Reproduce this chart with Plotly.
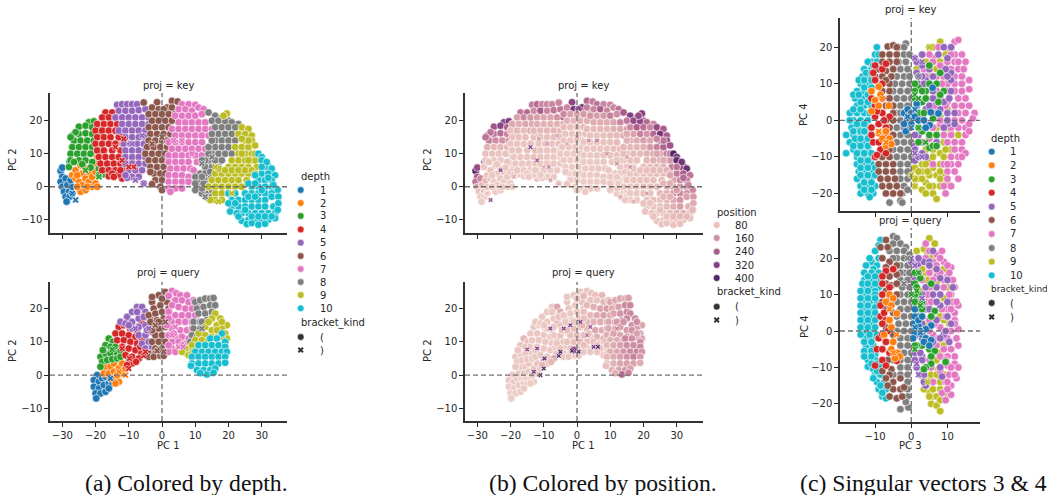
import plotly.graph_objects as go

DEPTHS = [1, 2, 3, 4, 5, 6, 7, 8, 9, 10]
TAB10 = ["#1f77b4", "#ff7f0e", "#2ca02c", "#d62728", "#9467bd", "#8c564b", "#e377c2", "#7f7f7f", "#bcbd22", "#17becf"]
POSITION_LEGEND = [80, 160, 240, 320, 400]
BRACKETS = ["(", ")"]

# ---- proj = key, PC1 / PC2 / position, one list per depth
KEY_D1 = [(-30.5,4.8,400),(-30,5.8,280),(-27.8,7.6,400),(-30,3,240),(-30.5,1.5,200),(-29,2.5,170),(-30,0,120),(-28.5,0.5,90),(-29.5,-1.5,70),(-28,-1.5,60),(-29,-3,50),(-27.8,-3,50),(-28.7,-4.5,45),(-27,-2,45),(-27,0,60),(-27.5,2,90)]
KEY_D2 = [(-27,3.5,70),(-26,5,70),(-24.5,6.5,80),(-24,4,60),(-26,2.5,60),(-25,1.5,60),(-24,0.5,50),(-23,2.5,60),(-22,4.5,60),(-22,1.5,55),(-24.5,-1.5,50),(-21,0,50),(-21,3,55),(-20,1,50),(-20,4.5,60),(-19.5,9,70),(-19.8,7,70),(-19.5,0,50),(-23,-1,50),(-25.5,3.5,60),(-23,5.5,70),(-25.5,0,50),(-22.5,0,50)]
KEY_D3 = [(-22,19.5,300),(-20.5,19.8,330),(-25,18.2,260),(-23,18.5,300),(-21,18,230),(-19.5,17.8,260),(-27,15.5,220),(-25,16,200),(-23,16.2,210),(-21,16,180),(-19,15.8,190),(-26.5,14,190),(-24.5,14,160),(-22.5,14,150),(-20.5,14,150),(-27,12,100),(-25,12,90),(-23,12,90),(-21,12,90),(-19.5,12,100),(-27.5,10,80),(-25.5,10,70),(-23.5,10,70),(-21.5,10,70),(-19,10.5,80),(-27.5,8,70),(-25,8,60),(-23,8,60),(-21,7.5,70),(-28,6,60),(-24,6.8,60),(-21.5,5.8,60),(-19,5.5,60),(-17.5,3.8,70),(-19,3.5,65),(-18,5.5,65),(-17,5,65),(-26.5,7.5,65),(-26,16.5,200),(-27.5,15,200)]
KEY_D4 = [(-17,22.5,200),(-15,22.5,220),(-18,21,130),(-16,21,170),(-14,21,160),(-19.5,19,120),(-17.5,19,110),(-15.5,19,120),(-13.5,19,120),(-20,17,80),(-18,17,90),(-16,17,80),(-14,17,110),(-19.5,15,70),(-17.5,15,75),(-15.5,15,80),(-13,15,80),(-20,13,70),(-18,13,70),(-16,13,70),(-14,13,80),(-19.5,11,65),(-17.5,11,70),(-15,11,70),(-12.5,11,90),(-19,9,60),(-17,9,60),(-15,9,65),(-13,9,75),(-11,9,90),(-18.5,7,60),(-16.5,7,60),(-14.5,7,60),(-12.5,7,65),(-18,5,60),(-16,5,55),(-14,5,55),(-11,5,60),(-16,3.2,50),(-12,2.5,60),(-9,7.5,70),(-13,3.7,55),(-15,4,50),(-14.5,3,50),(-12.5,5,55),(-11.8,13,80),(-12,16.5,100)]
KEY_D5 = [(-13.5,24.8,190),(-12,25,220),(-10.5,25,170),(-9,25,170),(-7.5,25,170),(-13,23,160),(-11,23,240),(-9,23,170),(-7,23.2,200),(-5,23.5,200),(-14,21,140),(-12,21,130),(-10,21,120),(-8,21,120),(-6,21,150),(-4,21,240),(-12,19,110),(-10,19,100),(-8,19,100),(-6,19,100),(-4,19,130),(-13,17,90),(-11,17,90),(-9,17,90),(-7,17,90),(-5,17,90),(-11,15,80),(-9,15,80),(-7,15,80),(-5,15,85),(-11.5,13,70),(-9.5,13,70),(-7.5,13,70),(-5.5,13,75),(-11,11,70),(-9,11,70),(-7,11,65),(-5,11,70),(-11,9,65),(-9,9,60),(-7,9,60),(-5,9,60),(-11,7,60),(-9,7,60),(-7,7,60),(-5,7,55),(-10,5,55),(-8,5,50),(-6,5,50),(-9,3,50),(-7,3,50),(-5.5,1,50),(-10.5,2.7,50),(-11,3.5,50)]
KEY_D6 = [(-5.5,25.5,170),(-1.5,25.6,300),(1.5,24,400),(3,26,220),(4.7,25.8,190),(-3,24,170),(-1,23.5,330),(0.5,23.5,280),(3,24,180),(-4,22,170),(-2,22,130),(0,22,120),(2,22,140),(4,22,140),(-3,20,100),(-1,20,90),(1,20,100),(3,20,110),(-4,18,85),(-2,18,80),(0,18,80),(2,18,90),(-3.5,16,70),(-1.5,16,70),(0.5,16,70),(2.5,16,80),(-4,14,65),(-2,14,60),(0,14,60),(-4.5,12,60),(-2.5,12,60),(-0.5,12,55),(1.5,12,60),(-5,10,55),(-3,10,55),(-1,10,50),(1,10,55),(-4,8,55),(-2,8,50),(0,8,50),(-3.5,6,50),(-1.5,6,50),(0.5,6,50),(-2.5,4,50),(-0.5,4,50),(1,4,50),(-2,2,50),(0,2,50),(-3,0.8,60),(-0.5,0,50),(0,-1,50),(1.5,14,60),(2,8,50),(-3.5,4.5,50)]
KEY_D7 = [(6,25,200),(8,25,170),(10,24.8,170),(5,23.5,170),(7,23.5,240),(9,23,170),(11,24,170),(12.5,23.5,200),(4,21.5,150),(6,21.5,130),(8,21.5,140),(10,21.5,180),(12,22,160),(5,19.5,110),(7,19.5,110),(9,19.5,110),(11,19.5,120),(13,19.5,170),(3,17.5,85),(5,17.5,85),(7,17.5,90),(9,17.5,90),(11,17.5,100),(13,17.5,110),(15,17.5,130),(4,15.5,70),(6,15.5,70),(8,15.5,80),(10,15.5,85),(12,15.5,90),(14,15.5,110),(2,13.5,65),(4,13.5,65),(6,13.5,70),(8,13.5,75),(10,13.5,80),(12,13.5,85),(3,11.5,60),(5,11.5,60),(7,11.5,65),(9,11.5,70),(11,11.5,75),(2,9.5,55),(4,9.5,55),(6,9.5,60),(8,9.5,65),(10,9.5,70),(2,7.5,50),(4,7.5,55),(6,7.5,55),(8,7.5,60),(2.5,5.5,50),(4.5,5.5,50),(6.5,5.5,55),(8.5,5.5,60),(2,3.5,50),(4,3.5,50),(6,3.5,50),(8,3,55),(2,1.5,50),(4,1.5,50),(6,1.5,50),(2,-0.5,50),(4,-0.5,50),(6,-0.5,50),(2.5,-1.5,50),(10.5,7.5,65),(12,9.5,75),(13,11.5,85),(9.5,5,60),(8,1.5,55)]
KEY_D8 = [(14,22.5,240),(16,21.5,320),(18,21,250),(20,20,240),(15,20,190),(17,20,280),(19,19.8,300),(21,19.5,220),(23,19,170),(16,18,170),(18,18,240),(20,18,210),(22,18,170),(17,16,130),(19,16,180),(21,16,150),(16,14,110),(18,14,110),(20,14,130),(22,14,120),(16,12,90),(18,12,95),(20,12,100),(15,10,80),(17,10,85),(19,10,85),(14,8,70),(16,8,75),(13,6,60),(15,6,65),(11.5,4,60),(13,4,60),(11,2,55),(13,2,55),(11,0,50),(13,0,55),(12,-2,50),(14,-2,50),(13.5,-3.2,50),(13,8,70),(12,8,70),(14,10,80),(14,12,90),(15,14,100),(15,16,110),(17,6,70),(18,8,80),(21,10,100),(14.5,4.5,60),(14.7,2.5,60),(12,-0.5,50),(12.5,1,50),(15,-3,50),(15,-1,50),(10,3,55),(10,1,55),(10,-1,50),(12,3,55)]
KEY_D9 = [(19.5,22.2,320),(18.5,21.5,280),(24,18,280),(26,17.5,240),(23,16,220),(25,16,330),(27,15.5,240),(25,14,220),(27,14,280),(22,12,140),(24,12,180),(26,12,230),(28,12.5,260),(23,10,120),(25,10,130),(27,10,180),(29,10,300),(21,8,90),(23,8,100),(25,8,110),(27,8,140),(29,8.5,330),(20,6,80),(22,6,85),(24,6,90),(26,6,100),(28.5,6,190),(16,4,70),(18,4,70),(20,4,75),(22,4,80),(24,4,85),(26,4,90),(15,2,60),(17,2,65),(19,2,70),(21,2,75),(23,2,80),(14,0,55),(16,0,60),(18,0,65),(20,0,70),(22,0,75),(16,-2,55),(18,-2,60),(20,-2,60),(16,-4,50),(18,-4,55),(17,5.5,70),(19,5,75),(21,5,80),(23,5,85),(25,5,85),(27,5,100),(28,4,120),(14.5,-4,50),(22,-2,65),(24,0,80),(25.5,2,85),(28,8,140),(26,8,110),(28,10,180),(24,10,120),(26,14,200),(24,14.5,170)]
KEY_D10 = [(29,10,400),(30,9,330),(30,8,380),(32,6,400),(31,6,300),(33,5.5,360),(30,4,190),(32,4,240),(34,3.5,200),(29,2,130),(31,2,170),(33,2,190),(27,0,100),(29,0,120),(31,0,140),(33,0,170),(34.8,-1,170),(20,-2,70),(22,-2,75),(25,-2,90),(27,-2,110),(29,-2,150),(31,-2,170),(33,-2,150),(21,-4,70),(23,-4,75),(25,-4,80),(27,-4,95),(29,-4,120),(31,-4,150),(33,-3,130),(21,-6,70),(23,-6,70),(25,-6,75),(27,-6,85),(29,-6,100),(31,-6,130),(33.5,-6,100),(24,-8,70),(26,-8,75),(28,-8,85),(30,-8,100),(32,-8,100),(34,-8,90),(24,-10.3,70),(26,-10,70),(28,-10,75),(30,-10,85),(32,-10,80),(34,-9.5,75),(25.5,-11.3,70),(27,-11,70),(29,-11.5,70),(31,-11.2,75),(26,1,90),(28,1,105),(30,-1,130),(26,-3,90),(28,-3,100),(20,-5,70),(20.5,-7.5,70),(22.5,-8,70),(23,-9,70),(31.5,7.5,340),(32,2.7,220),(28,3.5,120),(30,6,200),(33.5,0.5,170),(35,-3,140),(35,-5,110),(34.8,-7,90),(22,-5,70),(25,-7,75),(27,-9,75),(29,-9,85),(31,-9,90),(33,-9,85)]
KEY_OPEN = [KEY_D1, KEY_D2, KEY_D3, KEY_D4, KEY_D5, KEY_D6, KEY_D7, KEY_D8, KEY_D9, KEY_D10]
# ")" points: PC1, PC2, depth, position
KEY_CLOSE = [(-23,5,3,300),(-19,3,3,120),(-11.5,14.5,4,150),(-14,12,4,300),(-12,8,4,260),(-8.5,6,4,180),(-10,6,4,120),(-8,2,5,140),(-5.5,1,5,120),(-9,13,5,160),(-6,15.5,5,140),(-3,13,6,120),(0,15,6,160),(3.5,14,7,180),(6,14,7,200),(9,10,7,160),(12,7,8,170),(15,9,8,140),(16,6,9,160),(21,-2,9,140),(17,-4.5,9,120),(13,-3,8,130),(-27,-2,1,90),(-26,-4,1,280)]

# ---- proj = query, PC1 / PC2 / position
QUERY_D1 = [(-19.5,0,60),(-20.5,-1.5,55),(-19,-2,55),(-18,-1,60),(-20.5,-3.5,50),(-19,-4,50),(-17.5,-3,50),(-16,-2.5,55),(-20,-5.5,45),(-18.5,-5.5,45),(-17,-5,50),(-19.8,-7,45),(-15,-2.5,60),(-17,-0.5,55),(-16,-4,50)]
QUERY_D2 = [(-17,2.5,70),(-15.5,2.5,65),(-14.5,3.5,70),(-17.5,0.5,60),(-16,0.5,60),(-14.5,1,60),(-13,2,60),(-15.5,-1,55),(-14,-0.8,55),(-12,0.5,60),(-13,-2,50),(-12,3.5,70),(-14,-2.5,50),(-13.5,0,55),(-11,2,60)]
QUERY_D3 = [(-16,11,90),(-14.8,10,80),(-17,9,70),(-15.5,8.5,70),(-14,8.5,60),(-18.5,5.5,60),(-17,6.5,60),(-15.5,6.5,60),(-13.5,6.5,60),(-18,4,60),(-16.5,4.5,60),(-15,4.8,60),(-18.5,2.5,55),(-11,7,60),(-12.5,7.5,60),(-10,5,150),(-17.8,7.5,60),(-13.5,5,60),(-12.5,5.5,60)]
QUERY_D4 = [(-13,14.5,55),(-11.5,15,55),(-9.5,13.8,60),(-14,12.5,55),(-12,12.5,55),(-10,12,60),(-8,11.5,60),(-13.5,10.5,55),(-11.5,10.5,55),(-9.5,10,60),(-7.5,9.5,60),(-12,8.5,55),(-10,8,60),(-8,7.5,60),(-6.2,6.5,70),(-11,6,60),(-9,5.5,60),(-7,5,120),(-9,3.5,70),(-10.5,3,90),(-6,15.8,140),(-7.5,13.5,60),(-6,10.5,60),(-6.5,8.5,60),(-7.8,4,90)]
QUERY_D5 = [(-12.5,16,55),(-10.5,17.5,55),(-9,19,55),(-7.5,20.5,60),(-6,20.5,120),(-11,15.5,55),(-9,16,55),(-7,17,60),(-5,19,110),(-9,14,55),(-7,14.5,60),(-5,15,70),(-3.5,17,70),(-7,12,60),(-5,12,70),(-3,13,80),(-6,9.5,70),(-4,10,80),(-5,8,80),(-3,8.5,70),(-3,15,70),(-7.5,19,60),(-5.5,17.5,70),(-10,15,55),(-4.5,13.5,70),(-4,6.5,60)]
QUERY_D6 = [(-3,22,60),(-1,24,60),(1,25,60),(-2.5,20,60),(-0.5,21,60),(1.5,22,70),(-4,18,60),(-2,18.5,55),(0,19,60),(2,20,70),(-3.5,16,60),(-1.5,16.5,60),(0.5,17,70),(-1,14,80),(1,14.5,90),(-2,12,80),(0,12,90),(2,12,90),(-3,10,70),(-1,10,80),(1,10,90),(-2,8,70),(0,8,70),(-4,6.5,60),(-2,6.5,60),(-4,5.5,60),(-2.5,5.5,60),(-0.5,5.8,55),(-1,7.5,300),(-3,23.5,60),(0,23,70),(2,24,60),(1,7,70),(0.5,5.8,55),(-1,16,60),(-3,13.5,80)]
QUERY_D7 = [(3,25.3,60),(4.3,24.6,70),(5.5,24,80),(7.5,24,90),(2,23.8,90),(4,22.5,70),(6,22.5,70),(8,22,90),(9.5,22.5,90),(3,21,90),(5,20.5,100),(7,20,120),(9,20,140),(11,21,130),(2,19,80),(4,18,90),(6,18,110),(8,18,130),(10,18,120),(3,16,100),(5,16,100),(7,16,110),(9,16,110),(3,14,90),(5.5,13.5,120),(7.5,13.5,110),(2,12,80),(4,11.5,80),(6,11.5,100),(3,10,80),(5,10,80),(3,8,70),(5,8,70),(2,7,60),(4,7,60),(6,7,60),(7,9.5,80),(8,11,100),(2,9,80),(1.5,15,90),(2,17,80),(3.5,12.5,80),(9,14,110),(7,6.8,70),(6,9,70)]
QUERY_D8 = [(10,22,120),(11.5,22.5,110),(13,23,120),(14.5,23,110),(15.5,23.2,130),(10.5,20,110),(12.5,20.5,130),(14.5,21,170),(11,18.5,120),(13,18.5,150),(15,19,170),(9.5,16,120),(11.5,16,140),(13.5,16.5,140),(9.5,14,120),(11.5,14,110),(9,12,110),(8.5,10,90),(10.5,11.5,120),(8.5,8,70),(7.5,6.5,60),(9,6,60),(12,12.5,110),(16,21,170),(8,7.5,70),(10,9,100),(12,16,140)]
QUERY_D9 = [(16,18.5,170),(17.5,17,160),(18.5,15,130),(19.5,15,120),(15,17,170),(16.5,15,160),(18,14,130),(13,14.5,130),(15,13.5,140),(17,12.5,140),(19,12.5,120),(11,12.5,120),(13,12,120),(15,11.5,140),(19.5,11,120),(10,10.5,100),(12,10.5,110),(14,10.5,110),(9,9,90),(11,9,90),(7,8,70),(6,7,60),(9,7,70),(8,6,60),(11,7.5,90),(13,8.5,130),(9.2,6.5,70),(14,16,150),(18,16,160),(16.5,13.5,150),(18,11.5,130)]
QUERY_D10 = [(18,12.5,130),(14.5,11,170),(16.5,11,160),(19,10,160),(11,9,110),(13,9,130),(15,9,160),(17,9,160),(19,8.5,170),(10,7,110),(12,7,120),(14,7,150),(16,7,170),(18,7,180),(19.5,7,150),(9,5.5,90),(11,5.5,110),(13,5.5,130),(15,5.5,150),(17,5.5,180),(19,5.5,140),(9,3.5,80),(11,3.5,100),(13,3.5,120),(15,3.5,130),(17,3.5,130),(19,3.7,110),(8.7,2.8,80),(10.5,1.5,100),(12.5,1.5,130),(14.5,1.5,150),(16,2,130),(13.5,0.2,220),(15.5,0.7,170),(11.5,0.6,100)]
QUERY_OPEN = [QUERY_D1, QUERY_D2, QUERY_D3, QUERY_D4, QUERY_D5, QUERY_D6, QUERY_D7, QUERY_D8, QUERY_D9, QUERY_D10]
QUERY_CLOSE = [(-15.5,-1,1,60),(-13,1,2,360),(-11,0,2,400),(-10,2,4,400),(-9.8,5,4,400),(-5.5,5.8,4,400),(-5,7,4,400),(-1.5,7.3,6,400),(0.5,7,6,400),(-8,14,5,320),(-4,14,5,320),(-2,15,6,320),(1,16,6,320),(4,14.5,7,260),(5,8.5,7,340),(6.3,8.5,7,400),(-12,8,4,320),(-15,7.7,3,300),(3,12,7,220),(12,14,8,200)]

# ---- singular vectors 3 & 4: PC3 / PC4, proj = key
C_KEY_D1 = [(-2,2),(-1,3),(0,2),(1,1),(-1,0.5),(0,-1),(2,0),(1.5,4),(-2,-1),(-1.5,-3),(5.4,2.2),(5.1,-1.3),(4,-2),(7.5,1.9),(5.9,8.9),(1.5,4.5),(3.5,0)]
C_KEY_D2 = [(-11,8),(-9,9.2),(-8.5,7),(-10,5.5),(-9,4),(-6.2,4),(-11,2.5),(-9,-3.5),(-7,-3),(-8,-5),(-6,-5),(-7,-7),(-5.5,-6.5)]
C_KEY_D3 = [(5,15),(8,13),(7,10),(2,9),(4,8),(9,8),(8,7),(3,5),(7.5,5),(2,2),(6,0.5),(3,-3),(5,-4),(7,-4),(5,-7.5),(6,-7),(7,-7),(2,12),(1,10),(5,10),(1,8),(3,8),(1,6),(4,6),(3.5,2),(2,-2),(2,-6)]
C_KEY_D4 = [(-10,15),(-8,14),(-10.5,13),(-7,15.5),(-10,11),(-8,10),(-11,6),(-10,4),(-8,6),(-10,1),(-8,2),(-6,1),(-11,-2),(-9,-1),(-7,-2),(-11,-4),(-10.5,-6),(-8.5,-8),(-10,-10),(-9.5,-9.5),(-7,-4),(-9.5,2.5),(-7.5,0),(-9,-6),(-7,-9)]
C_KEY_D5 = [(1,17),(3,15),(1.5,13),(4,11),(2,10),(6,12),(11,13),(11,8),(8,3),(10,2),(12,2),(10,-1),(9,20),(11,20),(10,17),(9.5,14),(11,11),(2,-4),(1,-7),(3,-9),(12,-1),(1,-11),(6,6),(4,3),(9,5),(3,-6),(3,18),(7.5,18),(1.5,16),(5,14),(3,12),(10,12),(3.5,10),(6,8),(10.5,6),(5,4),(7,2),(10,0),(9,-2),(1,-4),(7,-6),(1,-8),(2,-10),(4,-10)]
C_KEY_D6 = [(-6.5,20.2),(-5,20.5),(-4,20),(-8,18),(-6,18),(-4,18),(-8,16),(-6,16),(-4,16),(-9,14),(-7,13.5),(-5,14),(-10,12),(-8,12),(-5.5,12),(-8,8),(-6,8),(-7,4),(-5,4),(-7,0),(-5,0),(-8,-4),(-5,-4),(-8,-8),(-10,-10),(-8,-10),(-6,-10),(-9,-12),(-7,-12),(-5,-12),(-9,-14),(-7,-14),(-5,-14),(-8.5,-16),(-6.5,-16),(-4.5,-16),(-8,-18),(-6,-18),(-4,-18),(-7,-20),(-5,-20),(-3,-20),(-6,10),(-7,11),(-6,6),(-5,2),(-6,-2),(-6,-8)]
C_KEY_D7 = [(12,21.5),(13,22),(9,20),(11,20),(12,18),(14,18),(15,16),(16,11),(10,16),(12,16),(11,14),(13,14),(12,12),(14,12),(10,10),(12,10),(14,10),(10,8),(12,8),(14,8),(16,8.5),(13,6),(15,6),(12,4),(14,4),(16,4),(13,2),(15,2),(17.5,2),(14,0),(17,0.5),(13,-2),(15,-2),(15,-4),(10,-6),(12,-6),(14,-6),(12,-8),(14,-8),(15,-9),(11,-10),(13,-10),(9,-12),(11,-12),(13,-12),(10,-14),(12,-14),(10,-16),(13,-16),(9,-18),(11,-18),(9.5,-20),(6,17),(8,15),(6,6),(3,1),(8,-1),(10,5),(6,-2),(9,-4),(4,12),(7,12),(5,-5),(7.5,20),(5,18),(11,18),(6,16),(13,16),(3.5,14),(14.5,14),(9,12),(8.5,10),(7,8),(8,6),(6.5,4),(9.5,4),(8,0),(12,0),(9,-4),(11,-4),(6,-12),(10,-12),(11,-2),(16,-1),(16,-3),(14,-10)]
C_KEY_D8 = [(-1.5,21),(-3.5,20),(-2,20),(-4,18),(-2,18),(-3.5,16),(-1.5,16),(-5,14),(-3,14),(-1,14),(-4,12),(-2,12),(-4.5,10),(-2.5,10),(-0.5,10),(-5,8),(-3,8),(-1,8),(-4,6),(-2,6),(0,6),(-5,4),(-3,4),(-1,4),(-4,2),(-3,0),(-4,-2),(-2,-2),(-5,-4),(-3,-4),(-1,-4),(-4,-6),(-2,-6),(0,-6),(-5,-8),(-3,-8),(-1,-8),(-4,-10),(-2,-10),(0,-10),(-3,-12),(-1,-12),(-3,-14),(-1,-14),(-3,-16),(-1,-16),(-2,-18),(-2.5,-20),(-1,-19),(-6,-22.5),(-3,-22),(-2.5,-22.5),(-0.5,18),(-0.5,12),(-3,2),(-1,0),(-2,2),(-0.5,-2)]
C_KEY_D9 = [(8,21.5),(5,20),(10,19),(10,16),(9,14),(3,16),(7,17),(4,12),(9,11),(12,-1),(10,-2),(11,-3.5),(13,-4),(9,-6),(11,-8),(8,-9),(5,-11),(6,-13),(3,-14),(5,-15),(7,-15),(9,-15),(2,-16),(4,-17),(6,-18),(8,-18),(10,-17),(1,-18),(3,-19),(6,-20),(7,-21.5),(0,-14),(8,-12),(3,-12),(1,-13),(10,3),(8,1),(6,20),(9.5,18),(4,16),(8,16),(1.5,14),(7,14),(5,12),(7,-2),(4,-6),(4,-8),(6,-8),(9.5,-8),(6,-10),(9,-10),(4,-12),(2,-14),(4.5,-14),(8,-14),(1,-16),(3,-16),(8,-16),(5,-18),(4,-20)]
C_KEY_D10 = [(-9.5,20),(-10,18),(-9,18),(-11,16),(-9.5,16),(-13,14),(-11,14),(-9.5,14),(-13.5,12),(-11.5,12),(-14,10),(-12,10),(-15,8),(-13,8),(-11,8),(-15.5,6),(-13.5,6),(-11.5,6),(-15,4),(-13,4),(-11,4),(-17,2),(-15,2),(-13,2),(-11.5,2),(-16,0),(-14,0),(-12,0),(-16.5,-2),(-14.5,-2),(-12.5,-2),(-18,-4),(-16,-4),(-14,-4),(-12,-4),(-17,-6),(-15,-6),(-13,-6),(-16,-8),(-14,-8),(-12,-8),(-18,-9),(-15,-10),(-13,-10),(-11,-10),(-15,-12),(-13,-12),(-11,-12),(-14.5,-14),(-12.5,-14),(-10.5,-14),(-15,-16),(-13,-16),(-11,-16),(-14,-18),(-12,-18),(-10,-18),(-14,-20),(-12,-20),(-10.5,-20),(-11.5,-21),(-12,16),(-12.5,13),(-14.5,11),(-16,7),(-17,0),(-15,-1),(-13,-1),(-16,-3),(-14,-3),(-13,-3),(-16,3),(-14,3),(-14,5),(-12,5),(-14.5,7),(-12,7),(-13,9),(-11,9),(-13,11),(-11,11),(-11,13),(-10.5,15),(-15.5,-5),(-14,-5),(-12,-5),(-16,-7),(-14,-7),(-12,-7),(-15,-9),(-13,-9),(-11,-9),(-14,-11),(-12,-11),(-14,-13),(-12,-13),(-10,-13),(-14,-15),(-12,-15),(-10,-15),(-13,-17),(-11,-17),(-13,-19),(-11,-19)]
C_KEY = [C_KEY_D1, C_KEY_D2, C_KEY_D3, C_KEY_D4, C_KEY_D5, C_KEY_D6, C_KEY_D7, C_KEY_D8, C_KEY_D9, C_KEY_D10]
C_KEY_CLOSE = [(1,17,5),(3,16,5),(5,20,9),(2,12,5),(1,7,3),(2,6,3),(1,3,1),(-1,1,1),(0,-2,1),(2,-2,3),(4,-6,3),(1,-9,5),(3,-10,5),(0,-15,9),(1,-18,9),(-9,-3,2),(-7,-6,2),(-8,6,2)]

# ---- singular vectors 3 & 4: PC3 / PC4, proj = query
C_Q_D1 = [(1,4),(0.5,2),(2,1.5),(1,-0.5),(3,-1),(4,-2),(3.5,-3),(5.5,1.5),(5.5,-2.5),(4,0.5),(2,3),(0.5,-2),(1,6),(3,4),(2.5,0),(5,-4)]
C_Q_D2 = [(-6,10),(-5,9),(-7,8),(-5.5,7),(-4,4.8),(-6,3),(-5.5,1),(-7.5,-1),(-5,-3),(-5.5,-5),(-3.8,-6),(-3.2,-7),(-4.5,-7.5)]
C_Q_D3 = [(2.5,14.5),(5.5,13),(1,13),(2,10),(1.5,8),(3,6),(2,4),(6.5,5.5),(4,-2),(3,-4),(5,-5),(6.5,-5.5),(5.5,-7),(5.5,-9),(4,-10),(3.5,-10.5),(9.5,-8.5),(1.5,-4),(1,16),(1.5,12),(1,10),(1,8),(3,8),(5.5,4),(1,-4)]
C_Q_D4 = [(-5,17),(-7,16.5),(-8,15),(-8,13),(-6,12),(-8,10),(-8.5,7),(-6,7),(-8.5,4),(-7,3),(-8,2),(-6.5,0),(-9,-2),(-7,-3),(-9.5,-5),(-8,-5),(-6,-6),(-8,-8),(-4,-8.2),(-7,-9.5),(-10,-9.5),(-7.5,5),(-8,-1)]
C_Q_D5 = [(0,19),(2,18.5),(3.5,19),(5,19),(7,17),(8,14.5),(10,14),(7,12),(10,8),(8,10),(8,7),(10,4),(7,3),(11,2),(10.5,-3),(9,-1),(4,6),(1,-6),(3,-7),(2.5,-12),(4,-15),(8.5,-12.5),(2,-1),(6,-3),(2,20),(6,22),(5,18),(2,16),(1,14),(4,12),(11.5,12),(3,10),(6,10),(7,8),(2.5,6),(5,6),(3,2),(9.5,0),(3,-2),(8,-2),(2.5,-6),(1,-8),(3,-8),(1.5,-10),(8,-10),(3.5,-12),(3.5,-14)]
C_Q_D6 = [(-7,25),(-8.5,23),(-6.5,23),(-8,20),(-6,19),(-7,17.5),(-4,18),(-8,15),(-6,15),(-4,15.5),(-7,13),(-5.5,12.5),(-4,13),(-8,8),(-4,10),(-7,6),(-5,5),(-7,1),(-5,-1),(-8,-11),(-5.5,-10.5),(-6,-12),(-7,-13),(-5,-14),(-3,-13),(-5,-16),(-3,-16),(-2,-15.5),(-6,-18),(-4,-18.5),(-2.5,-18),(-6,9),(-7,11),(-6.5,-8),(-6.5,-15)]
C_Q_D7 = [(5,22),(7,21),(8.5,22),(6,19),(9,19),(11,17.5),(10,15),(12,12),(9,12),(11,10),(13,7),(12,5),(10,6),(12,3),(13,0.5),(11,0),(12.5,-2),(10,-2),(13,-4),(11,-5),(9,-5),(12,-7),(10,-7),(8,-7),(12,-9),(10,-9.5),(13,-10),(12.5,-13),(10.5,-12),(8,-11),(9.5,-14),(11,-15),(8.5,-17),(11,-17.5),(9.5,-19),(7,15),(5,12),(4,8),(5,3),(8,1),(6,-1),(7,-4),(4,24),(4,20),(8,20),(1.5,18),(7,18),(10,18),(5,16),(8,16),(10.5,16),(3,14),(6,14),(9,14),(11.5,14),(10.5,10),(4.5,10),(5.5,8),(11.5,8),(12.5,8),(8.5,6),(11,6),(9.5,4),(6.5,2),(12,2),(5,0),(7.5,-2),(5,-8),(9.5,-8),(5.5,-10),(11,-10),(12,-12),(6,-14),(10,-14),(10,-16)]
C_Q_D8 = [(-5,26),(-4,25.5),(-5,24),(-3,24),(-1.5,23),(-6,22),(-4,22),(-2,22),(-0.5,21),(-4,20),(-2,20),(-3,18),(-1,18),(-2,16),(0,15),(-3,14),(-1,14),(-2.5,12),(-0.5,12),(-3,10),(-1,10),(-4,8),(-2,8),(0,8),(-3,6),(-1,6),(-4,4),(-2,4),(0,4),(-3.5,2),(-1.5,2),(-4,0),(-2,0),(0,0),(-3,-2),(-1,-2),(-3,-4),(-1,-4),(-2,-6),(0,-6),(-3,-8),(-1,-8),(-3,-10),(-1,-10),(-3,-12),(-1,-12),(-1,-14),(-1,-16),(-1,-18),(-3,-21.5),(-0.8,-21),(-1.5,-19.5),(-5,20),(-3,16),(-0.5,16),(-5,-8),(-5,-12)]
C_Q_D9 = [(5,25.5),(6.5,24),(1.5,22),(3.5,22.5),(4.5,21),(6,21),(7.5,20),(6,17),(4,16),(9,17),(7,13),(3,17),(3,11),(10,12),(9,9),(10.5,2),(9,3),(11,0),(9,-2),(8,-3),(7,-6),(4,-16),(5,-17),(6,-18),(7,-18),(5.5,-20),(7,-20.5),(8,-22),(8,-19),(6,-14),(5,-13),(3.5,-13),(7.5,-10.5),(8,-13.5),(9.5,-17),(5.5,20),(4.5,14),(6,12),(8,4),(4,2),(9,-4),(6,-6),(8,-6),(7,-8),(5.5,-12),(7,-12),(9.5,-12),(8,-14),(3.5,-16),(6,-16),(8,-16),(5,-18)]
C_Q_D10 = [(-8.5,25),(-9,23.5),(-10,22),(-9,20),(-11,19),(-9.5,18),(-12.5,18),(-10.5,17),(-13,16),(-11,16),(-9,16),(-13,14),(-11,14),(-9,14),(-13,12),(-11,12),(-9,12),(-13,10),(-11,10),(-13.5,8),(-11.5,8),(-9.5,8),(-13,6.5),(-11,6),(-13.5,4),(-11.5,4),(-9.5,4),(-13,2),(-11,2),(-13,0),(-11,0),(-12.5,-2),(-10.5,-2),(-12.5,-4.5),(-10.5,-4),(-12,-6),(-10,-6.5),(-12,-8),(-10,-8),(-12,-9.8),(-10.5,-10.5),(-10,-12),(-8.5,-12),(-9.5,-14),(-7.5,-14),(-9,-16),(-7,-16),(-8,-18),(-7,-18.5),(-11.5,20),(-10,15),(-12,15),(-13.5,13),(-12,13),(-10,13),(-14,11),(-12,11),(-10,11),(-10,10),(-14,9),(-12,9),(-10,9),(-14,7),(-12,7),(-10,6.5),(-14,5),(-12,5),(-10,5),(-14,3),(-12,3),(-10,3),(-14,1),(-12,1),(-10,1),(-14,-1),(-11.5,-1),(-9.5,-1),(-13,-3),(-11,-3),(-13,-5.5),(-11,-5.5),(-13,-7),(-11,-7),(-9.5,-9),(-11,-9),(-8.5,-10),(-10.5,-13),(-8.5,-15),(-8,-17),(-9.5,-11)]
C_QUERY = [C_Q_D1, C_Q_D2, C_Q_D3, C_Q_D4, C_Q_D5, C_Q_D6, C_Q_D7, C_Q_D8, C_Q_D9, C_Q_D10]
C_Q_CLOSE = [(0,20,5),(1,18,5),(2,16,3),(1.5,11,3),(2.5,7,3),(3,9,5),(1,1,1),(2.5,-0.5,1),(1,-5,3),(1.5,-9,5),(2,-12,5),(4.5,-14,9),(-2,13,8),(-1,20,8),(-5,-6,2),(-4,-1,2),(-6,6,2),(0,10,3)]

W, H = 1047, 495
INK = "#262626"
POS_SCALE = [[0, "#f2dfd9"], [0.18, "#e8bfba"], [0.36, "#cf8fa3"], [0.55, "#aa5d8d"], [0.73, "#803c7f"], [0.91, "#522563"], [1, "#3a1a50"]]
SIZE = 7.6

# panel pixel boxes: left, right, top, bottom, x range, y range
PANELS = [
    (50, 287, 93, 233, (-33.7, 37.6), (-14, 28.4)),
    (50, 287, 282, 421, (-33.7, 37.6), (-13.8, 28)),
    (465, 703, 93, 233, (-33.7, 37.9), (-14, 28.4)),
    (465, 703, 282, 421, (-33.7, 37.9), (-13.8, 28)),
    (840, 980, 18, 211, (-19.7, 19), (-24.8, 28)),
    (840, 980, 228, 422, (-19.7, 19), (-25, 28.3)),
]

fig = go.Figure()


def add_points(pts, axis, color=None, symbol="circle", size=SIZE):
    xs = [p[0] for p in pts]
    ys = [p[1] for p in pts]
    if color is None:
        marker = dict(color=[p[-1] for p in pts], colorscale=POS_SCALE, cmin=0, cmax=440)
    else:
        marker = dict(color=color)
    marker.update(size=size, symbol=symbol, line=dict(color="white", width=0.6), opacity=1)
    fig.add_trace(go.Scatter(x=xs, y=ys, mode="markers", marker=marker, showlegend=False,
                             hoverinfo="skip", xaxis=f"x{axis}" if axis > 1 else "x",
                             yaxis=f"y{axis}" if axis > 1 else "y"))


# panels a
for ax, pts, close in [(1, KEY_OPEN, KEY_CLOSE), (2, QUERY_OPEN, QUERY_CLOSE)]:
    for d, group in enumerate(pts):
        add_points(group, ax, TAB10[d])
    for d in DEPTHS:
        sub = [p for p in close if p[2] == d]
        if sub:
            add_points(sub, ax, TAB10[d - 1], "x", 6)
# panels b
for ax, pts, close in [(3, KEY_OPEN, KEY_CLOSE), (4, QUERY_OPEN, QUERY_CLOSE)]:
    for group in pts:
        add_points(group, ax)
    add_points(close, ax, None, "x", 4.5)
# panels c
for ax, pts, close in [(5, C_KEY, C_KEY_CLOSE), (6, C_QUERY, C_Q_CLOSE)]:
    for d in reversed(range(10)):
        add_points(pts[d], ax, TAB10[d])
    for d in DEPTHS:
        sub = [p for p in close if p[2] == d]
        if sub:
            add_points(sub, ax, TAB10[d - 1], "x", 6)


def px(x):
    return x / W


def py(y):
    return 1 - y / H


layout = dict(width=W, height=H, margin=dict(l=0, r=0, t=0, b=0), paper_bgcolor="white",
              plot_bgcolor="white", showlegend=False, autosize=False,
              font=dict(family="DejaVu Sans", size=10, color=INK))
shapes, annots = [], []


def text(x, y, s, xanchor="center", size=10, family="DejaVu Sans", angle=0, color=INK):
    annots.append(dict(x=px(x), y=py(y), xref="paper", yref="paper", text=s, showarrow=False,
                       xanchor=xanchor, yanchor="middle", textangle=angle,
                       font=dict(size=size, family=family, color=color)))


for i, (l, r, t, b, xr, yr) in enumerate(PANELS):
    n = i + 1
    sx = "" if n == 1 else str(n)
    is_c = i >= 4
    bottom = i % 2 == 1
    layout[f"xaxis{sx}"] = dict(domain=[px(l), px(r)], range=list(xr), anchor=f"y{sx}",
                                tickvals=[-10, 0, 10] if is_c else [-30, -20, -10, 0, 10, 20, 30],
                                showticklabels=bottom, ticks="outside", ticklen=4, tickwidth=1,
                                tickcolor=INK, showline=True, linecolor="#333333", linewidth=1.5,
                                showgrid=False, zeroline=False, tickfont=dict(size=10, color=INK))
    layout[f"yaxis{sx}"] = dict(domain=[py(b), py(t)], range=list(yr), anchor=f"x{sx}",
                                tickvals=[-20, -10, 0, 10, 20] if is_c else [-10, 0, 10, 20],
                                ticks="outside", ticklen=4, tickwidth=1, tickcolor=INK,
                                showline=True, linecolor="#333333", linewidth=1.5,
                                showgrid=False, zeroline=False, tickfont=dict(size=10, color=INK))
    dash = dict(color="#6f6f6f", width=1.3, dash="5px,3px")
    shapes.append(dict(type="line", xref=f"x{sx}", yref=f"y{sx} domain", x0=0, x1=0, y0=0, y1=1, line=dash))
    shapes.append(dict(type="line", xref=f"x{sx} domain", yref=f"y{sx}", x0=0, x1=1, y0=0, y1=0, line=dash))

# subplot titles and axis names
for cx, y, s in [(168, 85, "proj = key"), (168, 272.7, "proj = query"), (583, 85, "proj = key"),
                 (583, 272.7, "proj = query"), (910, 9.5, "proj = key"), (910, 220.7, "proj = query")]:
    text(cx, y, s)
for x, y, s in [(12, 160, "PC 2"), (12, 351, "PC 2"), (427, 160, "PC 2"), (427, 351, "PC 2"),
                (804, 115, "PC 4"), (804, 327, "PC 4")]:
    text(x, y, s, angle=-90)
for x, y, s in [(168, 445, "PC 1"), (583, 445, "PC 1"), (910, 445, "PC 3")]:
    text(x, y, s)
for x, s in [(186.5, "(a) Colored by depth."), (602.5, "(b) Colored by position."), (923, "(c) Singular vectors 3 & 4")]:
    text(x, 483, s, size=23.7, family="Liberation Serif", color="#111111")


def key_circle(x, y, color):
    shapes.append(dict(type="circle", xref="paper", yref="paper", x0=px(x - 3.4), x1=px(x + 3.4),
                       y0=py(y + 3.4), y1=py(y - 3.4), fillcolor=color, line=dict(color="white", width=0.6)))


def key_cross(x, y):
    d = 2.3
    shapes.append(dict(type="path", xref="paper", yref="paper",
                       path=f"M {px(x-d)} {py(y-d)} L {px(x+d)} {py(y+d)} M {px(x-d)} {py(y+d)} L {px(x+d)} {py(y-d)}",
                       line=dict(color="#333333", width=2)))


def depth_legend(title_x, mark_x, label_x, rows_y, title_y, kind_y, bracket_y, kind_size=10):
    text(title_x, title_y, "depth", "left")
    for d, y in zip(DEPTHS, rows_y):
        key_circle(mark_x, y, TAB10[d - 1])
        text(label_x, y, str(d), "left")
    text(title_x, kind_y, "bracket_kind", "left", size=kind_size)
    key_circle(mark_x, bracket_y[0], "#333333")
    text(label_x, bracket_y[0], BRACKETS[0], "left")
    key_cross(mark_x, bracket_y[1])
    text(label_x, bracket_y[1], BRACKETS[1], "left")


depth_legend(299, 300.7, 318.3, [190, 203, 216, 229.5, 242.7, 256, 269, 282, 295, 308.3], 176, 322.7, (337, 350))
depth_legend(989, 991.7, 1008.3, [151.7, 165.3, 179.3, 192.7, 206.7, 220, 234, 248, 261.7, 275.3], 138, 289, (303, 317), kind_size=8.9)

text(715, 212, "position", "left")
for v, y, c in zip(POSITION_LEGEND, [225, 238, 251.7, 265, 278], ["#e8bfba", "#cf8fa3", "#aa5d8d", "#803c7f", "#522563"]):
    key_circle(716.7, y, c)
    text(733.3, y, str(v), "left")
text(715, 292, "bracket_kind", "left")
key_circle(716.7, 306.7, "#333333")
text(733.3, 306.7, BRACKETS[0], "left")
key_cross(716.7, 320)
text(733.3, 320, BRACKETS[1], "left")

layout["shapes"] = shapes
layout["annotations"] = annots
fig.update_layout(**layout)
fig.write_html("out.html", config=dict(displayModeBar=False),
               post_script="document.body.style.margin='0';document.body.style.overflow='hidden';")
